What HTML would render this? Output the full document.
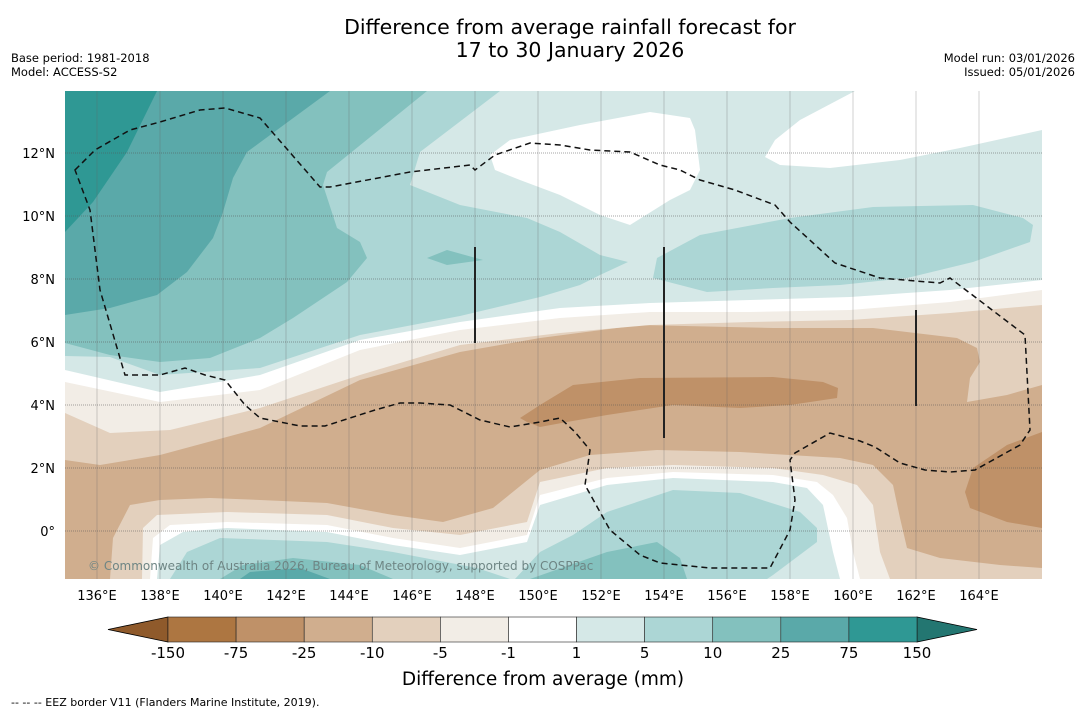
<!DOCTYPE html>
<html><head><meta charset="utf-8">
<style>
html,body{margin:0;padding:0;background:#fff;width:1085px;height:713px;overflow:hidden}
svg{display:block;font-family:"DejaVu Sans","Liberation Sans",sans-serif}
</style></head>
<body>
<svg id="chart" width="1085" height="713" viewBox="0 0 1085 713">
<text x="570" y="34" font-size="20.5" text-anchor="middle">Difference from average rainfall forecast for</text>
<text x="570" y="57" font-size="20.5" text-anchor="middle">17 to 30 January 2026</text>
<text x="11" y="62" font-size="11.5">Base period: 1981-2018</text>
<text x="11" y="76" font-size="11.5">Model: ACCESS-S2</text>
<text x="1075" y="62" font-size="11.5" text-anchor="end">Model run: 03/01/2026</text>
<text x="1075" y="76" font-size="11.5" text-anchor="end">Issued: 05/01/2026</text>
<defs><clipPath id="mc"><rect x="65" y="91" width="977" height="488"/></clipPath></defs>
<g clip-path="url(#mc)">
<rect x="65" y="91" width="977" height="488" fill="#e3d0bd"/>
<polygon fill="#d0ae8e" points="65,460 100,465 160,455 260,428 360,380 460,352 540,338 640,325 773,328 873,328 957,338 977,348 980,362 970,378 967,402 1007,395 1042,385 1042,568 1000,565 940,558 907,548 900,518 893,485 873,465 840,458 740,452 657,450 590,455 540,470 493,508 443,522 393,515 327,503 260,500 210,498 160,500 130,505 113,538 110,579 65,579"/>
<polygon fill="#bf9168" points="520,418 540,405 573,385 640,378 773,377 823,382 838,388 837,398 790,405 740,408 673,405 607,415 567,422 540,427 527,422"/>
<polygon fill="#bf9168" points="1042,432 1007,445 973,468 965,492 970,508 1007,522 1042,528"/>
<polygon fill="#f2ede6" points="65,91 1042,91 1042,305 950,313 850,320 750,322 650,325 560,333 460,345 360,375 260,408 170,430 110,433 65,413"/>
<polygon fill="#ffffff" points="65,91 1042,91 1042,290 950,302 850,310 750,312 650,312 560,318 460,330 360,350 260,390 160,402 65,382"/>
<polygon fill="#d5e8e7" points="65,91 1042,91 1042,280 950,290 850,297 750,300 650,303 560,308 460,322 360,340 260,375 160,392 65,370"/>
<polygon fill="#ffffff" points="490,155 510,140 580,125 650,112 690,118 695,130 700,170 690,190 670,200 630,225 600,215 560,195 520,180 495,170"/>
<polygon fill="#ffffff" points="765,157 775,140 800,120 855,91 1042,91 1042,130 960,148 900,160 830,168 780,165"/>
<polygon fill="#acd6d5" points="500,91 420,152 410,185 460,205 527,218 560,232 600,255 628,262 600,275 580,285 540,297 460,316 360,335 260,368 160,375 110,357 65,356 65,91"/>
<polygon fill="#acd6d5" points="653,278 657,258 700,235 790,218 873,207 973,205 1023,218 1033,225 1030,242 973,262 907,278 840,285 773,288 707,292"/>
<polygon fill="#83c1be" points="427,91 327,172 323,185 337,228 360,242 367,258 347,282 293,318 260,338 210,358 160,362 110,355 65,343 65,91"/>
<polygon fill="#83c1be" points="427,258 447,250 483,260 447,265"/>
<polygon fill="#5aa9a9" points="330,91 247,152 233,178 223,212 213,238 187,272 157,295 110,308 65,315 65,91"/>
<polygon fill="#2f9894" points="157,91 127,152 93,202 65,232 65,91"/>
<polygon fill="#f2ede6" points="142,579 143,528 157,515 227,512 327,515 393,528 460,535 527,522 540,482 607,468 673,465 773,468 823,475 857,485 873,505 880,552 890,579"/>
<polygon fill="#ffffff" points="150,579 153,538 170,525 227,522 327,525 393,538 460,548 527,535 540,495 607,478 673,472 773,475 817,482 833,495 847,518 853,552 860,579"/>
<polygon fill="#d5e8e7" points="157,579 160,545 183,532 227,528 327,532 393,545 460,555 527,542 540,505 607,485 673,478 773,482 807,488 823,505 833,552 840,579"/>
<polygon fill="#acd6d5" points="170,579 187,552 220,538 327,542 393,552 477,568 510,579"/>
<polygon fill="#acd6d5" points="515,579 540,552 573,535 607,512 673,490 740,493 800,512 817,528 817,542 773,575 767,579"/>
<polygon fill="#83c1be" points="220,579 243,565 293,558 360,565 393,579"/>
<polygon fill="#83c1be" points="530,579 607,552 657,542 680,558 687,579"/>
<polygon fill="#5aa9a9" points="240,579 250,572 300,568 330,579"/>
<g id="grid"></g>
<polygon fill="none" stroke="#111" stroke-width="1.5" stroke-dasharray="6,4" points="75,170 95,150 130,130 160,122 200,110 225,108 260,118 320,187 330,187 410,172 470,165 475,170 495,155 530,143 560,145 590,150 630,152 660,165 680,170 700,180 735,190 775,205 790,222 835,263 880,278 940,283 950,278 1025,335 1030,430 1020,445 975,470 950,472 925,470 900,463 875,447 860,441 830,433 795,453 790,460 795,500 790,530 770,568 710,568 660,563 640,555 610,530 585,485 590,450 575,432 560,418 540,422 510,427 480,420 460,410 450,405 420,403 400,403 375,410 350,418 325,426 300,426 260,418 245,405 225,380 205,375 185,368 160,375 125,375 100,290 90,210"/>
<line x1="475" y1="247" x2="475" y2="343" stroke="#222" stroke-width="2"/>
<line x1="664" y1="247" x2="664" y2="438" stroke="#222" stroke-width="2"/>
<line x1="916" y1="310" x2="916" y2="406" stroke="#222" stroke-width="2"/>
<text x="88" y="570" font-size="12" fill="#6e8584">© Commonwealth of Australia 2026, Bureau of Meteorology, supported by COSPPac</text>
</g>
<g id="ticks"></g>
<g id="cbar"></g>
<text x="543" y="685" font-size="18.5" text-anchor="middle">Difference from average (mm)</text>
<text x="11" y="706" font-size="11">--  --  -- EEZ border V11 (Flanders Marine Institute, 2019).</text>
</svg>
<script>
const lonTicks = [136,138,140,142,144,146,148,150,152,154,156,158,160,162,164];
const latTicks = [0,2,4,6,8,10,12];
const levelLabels = ["-150","-75","-25","-10","-5","-1","1","5","10","25","75","150"];
const levelColors = ["#ad7641","#bf9168","#d0ae8e","#e3d0bd","#f2ede6","#ffffff","#d5e8e7","#acd6d5","#83c1be","#5aa9a9","#2f9894"];
const NS = "http://www.w3.org/2000/svg";
function xLon(l){return 97 + (l-136)*31.5;}
function yLat(l){return 531 - l*31.5;}
function mk(tag, attrs, parent){const e=document.createElementNS(NS,tag);for(const k in attrs)e.setAttribute(k,attrs[k]);parent.appendChild(e);return e;}
const grid=document.getElementById('grid'), ticks=document.getElementById('ticks'), cbar=document.getElementById('cbar');
lonTicks.forEach(l=>{
  const ln=mk('line',{x1:xLon(l),x2:xLon(l),y1:91,y2:579,stroke:'#666','stroke-width':0.6,'stroke-opacity':0.5},grid);
  
  
  const t=mk('text',{x:xLon(l),y:600,'font-size':13,'text-anchor':'middle'},ticks);
  t.textContent=l+'°E';
  
  
});
latTicks.forEach(l=>{
  const ln=mk('line',{x1:65,x2:1042,y1:yLat(l),y2:yLat(l),stroke:'#555','stroke-width':0.8,'stroke-dasharray':'1,1','stroke-opacity':0.7},grid);
  
  
  const t=mk('text',{x:55,y:yLat(l)+5,'font-size':13,'text-anchor':'end'},ticks);
  t.textContent=l===0?'0°':l+'°N';
  
  
});
const bx0=168,bx1=917,by0=617,by1=642,n=levelColors.length,bw=(bx1-bx0)/n;
const lt=mk('polygon',{points:`108,${(by0+by1)/2} ${bx0},${by0} ${bx0},${by1}`,fill:'#8f5a2b',stroke:'#000','stroke-width':0.8},cbar);


const rt=mk('polygon',{points:`977,${(by0+by1)/2} ${bx1},${by0} ${bx1},${by1}`,fill:'#237671',stroke:'#000','stroke-width':0.8},cbar);


levelColors.forEach((c,i)=>{
  const r=mk('rect',{x:bx0+i*bw,y:by0,width:bw,height:by1-by0,fill:c,stroke:'#222','stroke-width':0.6},cbar);
  
  
});
levelLabels.forEach((s,i)=>{
  const t=mk('text',{x:bx0+i*bw,y:658,'font-size':15,'text-anchor':'middle'},cbar);
  t.textContent=s;
  
  
});
</script>
</body></html>
